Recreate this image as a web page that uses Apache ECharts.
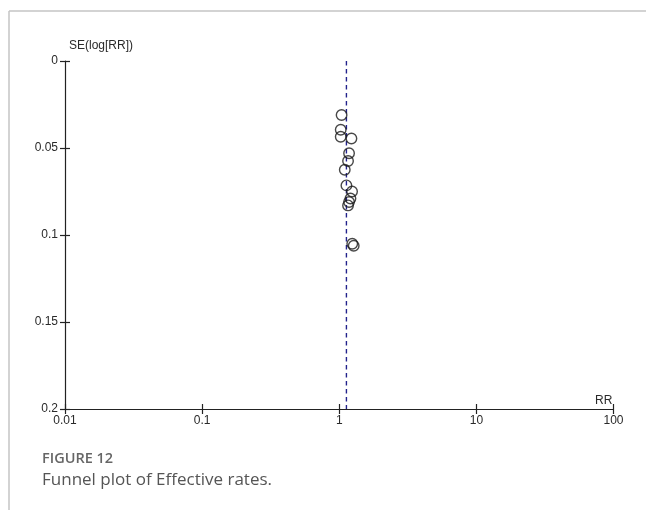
<!DOCTYPE html>
<html>
<head>
<meta charset="utf-8">
<title>Funnel plot of Effective rates</title>
<script src="https://cdn.jsdelivr.net/npm/echarts@6/dist/echarts.min.js"></script>
<style>
  html, body { margin: 0; padding: 0; background: #fff; }
  #chart { width: 646px; height: 510px; }
</style>
</head>
<body>
<div id="chart"></div>
<script>
// Study estimates: risk ratio and standard error of log(RR)
const rr = [1.04, 1.025, 1.025, 1.227, 1.179, 1.159, 1.097, 1.128, 1.240, 1.207, 1.179, 1.159, 1.244, 1.275];
const seLogRR = [0.031, 0.0395, 0.0435, 0.0445, 0.0530, 0.0575, 0.0625, 0.0715, 0.0750, 0.0790, 0.0810, 0.0830, 0.1050, 0.1062];

// Pooled estimate (vertical reference line)
const pooledRR = 1.128;

// Axis ticks
const rrTicks = [0.01, 0.1, 1, 10, 100];
const seTicks = [0, 0.05, 0.1, 0.15, 0.2];

const points = rr.map((v, i) => [v, seLogRR[i]]);

const axisFont = { fontFamily: 'Liberation Sans, Arial, sans-serif', fontSize: 12, color: '#2a2a2a' };
const lineStyle = { color: '#222', width: 1.2 };

// Each axis is drawn twice: once with outward ticks and labels, once with
// inward ticks only, so the tick marks cross the axis line.
function xAx(outside) {
  return {
    type: 'log', logBase: 10, min: rrTicks[0], max: rrTicks[rrTicks.length - 1],
    position: 'bottom',
    axisLine: { show: outside, onZero: false, lineStyle: lineStyle },
    axisTick: { show: true, inside: !outside, length: 5, lineStyle: lineStyle },
    axisLabel: Object.assign({ show: outside, margin: 6, formatter: v => String(+v.toPrecision(3)) }, axisFont),
    splitLine: { show: false }
  };
}
function yAx(outside) {
  return {
    type: 'value', inverse: true, min: seTicks[0], max: seTicks[seTicks.length - 1], interval: 0.05,
    position: 'left',
    axisLine: { show: outside, onZero: false, lineStyle: lineStyle },
    axisTick: { show: true, inside: !outside, length: 5, lineStyle: lineStyle },
    axisLabel: Object.assign({ show: outside, margin: 7, formatter: v => String(+v.toFixed(2)) }, axisFont),
    splitLine: { show: false }
  };
}

const chart = echarts.init(document.getElementById('chart'), null, { renderer: 'canvas' });
chart.setOption({
  animation: false,
  backgroundColor: '#fff',
  grid: { left: 65, right: 32.5, top: 61, bottom: 101, containLabel: false },
  xAxis: [xAx(true), xAx(false)],
  yAxis: [yAx(true), yAx(false)],
  series: [
    {
      type: 'line',
      data: [[pooledRR, seTicks[0]], [pooledRR, seTicks[seTicks.length - 1]]],
      symbol: 'none',
      lineStyle: { color: '#22228c', width: 1.4, type: [4.5, 3.5] },
      silent: true, z: 1
    },
    {
      type: 'scatter',
      data: points,
      symbol: 'circle',
      symbolSize: 10.5,
      itemStyle: { color: 'rgba(0,0,0,0)', borderColor: '#1a1a1a', borderWidth: 1.4 },
      z: 3
    }
  ],
  graphic: [
    { type: 'line', shape: { x1: 9, y1: 11, x2: 646, y2: 11 }, style: { stroke: '#c4c4c4', lineWidth: 1.5 } },
    { type: 'line', shape: { x1: 9, y1: 11, x2: 9, y2: 510 }, style: { stroke: '#c4c4c4', lineWidth: 1.5 } },
    { type: 'text', left: 69, top: 40, style: { text: 'SE(log[RR])', font: '12px Liberation Sans, Arial, sans-serif', fill: '#2a2a2a' } },
    { type: 'text', left: 595, top: 395, style: { text: 'RR', font: '12px Liberation Sans, Arial, sans-serif', fill: '#2a2a2a' } },
    { type: 'text', left: 42, top: 451, style: { text: 'FIGURE 12', font: '600 14.5px "Open Sans", sans-serif', fill: '#666' } },
    { type: 'text', left: 42, top: 472, style: { text: 'Funnel plot of Effective rates.', font: '17px "Open Sans", sans-serif', fill: '#555' } }
  ]
});
</script>
</body>
</html>
